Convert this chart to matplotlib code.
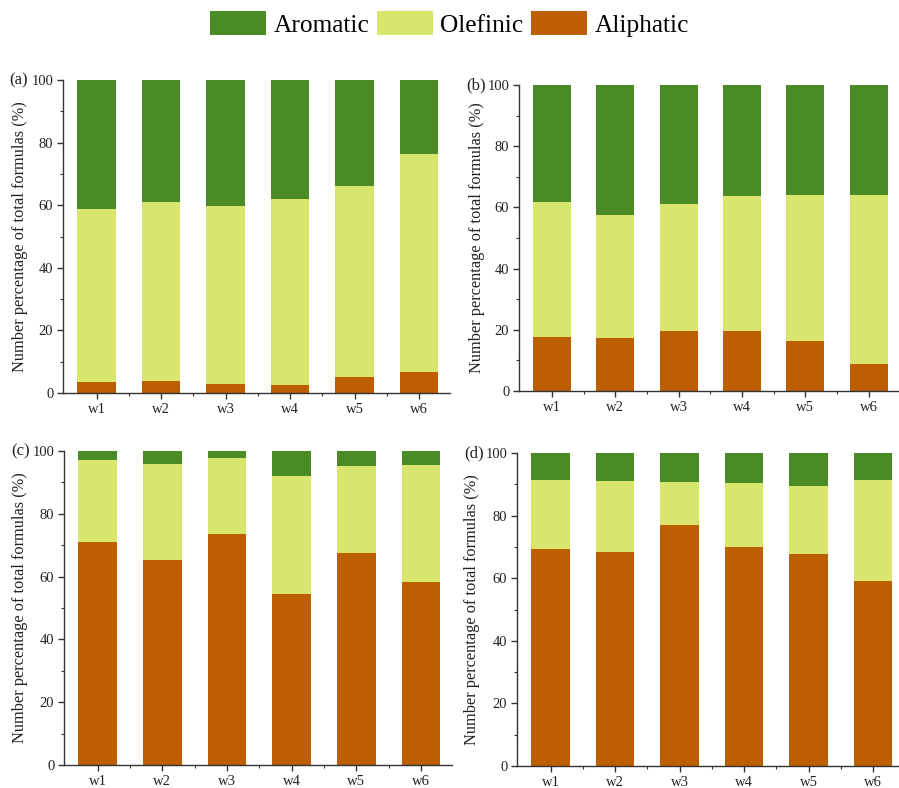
import matplotlib
matplotlib.use("Agg")
import matplotlib.pyplot as plt
from matplotlib.patches import Patch
from matplotlib.ticker import MultipleLocator, FixedLocator
import numpy as np

plt.rcParams['font.family'] = ['Liberation Serif', 'DejaVu Serif']

categories = ["w1", "w2", "w3", "w4", "w5", "w6"]
series = ["Aromatic", "Olefinic", "Aliphatic"]

# Percentages per panel (Aliphatic, Olefinic, Aromatic)
aliphatic_a = [3.5, 3.7, 3.0, 2.7, 5.1, 6.6]
olefinic_a = [55.2, 57.2, 56.6, 59.3, 61.0, 69.7]
aromatic_a = [41.3, 39.1, 40.4, 38.0, 33.9, 23.7]

aliphatic_b = [17.6, 17.3, 19.7, 19.5, 16.4, 8.7]
olefinic_b = [44.2, 40.1, 41.4, 44.3, 47.5, 55.2]
aromatic_b = [38.2, 42.6, 38.9, 36.2, 36.1, 36.1]

aliphatic_c = [70.9, 65.2, 73.5, 54.5, 67.6, 58.3]
olefinic_c = [26.2, 30.7, 24.2, 37.6, 27.5, 37.1]
aromatic_c = [2.9, 4.1, 2.3, 7.9, 4.9, 4.6]

aliphatic_d = [69.2, 68.4, 77.0, 70.0, 67.7, 59.1]
olefinic_d = [22.3, 22.8, 13.6, 20.4, 21.6, 32.2]
aromatic_d = [8.5, 8.8, 9.4, 9.6, 10.7, 8.7]

panel_labels = ["(a)", "(b)", "(c)", "(d)"]
ylabel = "Number percentage of total formulas (%)"

colors = {"Aromatic": "#4a8b26", "Olefinic": "#d9e66e", "Aliphatic": "#bd5e00"}

W, H = 899, 788
fig = plt.figure(figsize=(W / 100, H / 100), dpi=100)

def px_axes(left, top, right, bottom):
    return fig.add_axes([left / W, 1 - bottom / H, (right - left) / W, (bottom - top) / H])

panels = [
    (px_axes(63, 80, 450, 393), aliphatic_a, olefinic_a, aromatic_a, (20, 237), (19, 80)),
    (px_axes(519, 85, 899, 391), aliphatic_b, olefinic_b, aromatic_b, (477, 238), (476, 85)),
    (px_axes(64, 451, 452, 765), aliphatic_c, olefinic_c, aromatic_c, (20, 608), (21, 451)),
    (px_axes(517, 453, 904, 766), aliphatic_d, olefinic_d, aromatic_d, (472, 610), (474, 453)),
]

x = np.arange(len(categories))
width = 0.6
for (ax, ali, ole, aro, ylpos, plpos), plab in zip(panels, panel_labels):
    ali = np.array(ali)
    ole = np.array(ole)
    aro = np.array(aro)
    ax.bar(x, ali, width, color=colors["Aliphatic"], linewidth=0)
    ax.bar(x, ole, width, bottom=ali, color=colors["Olefinic"], linewidth=0)
    ax.bar(x, aro, width, bottom=ali + ole, color=colors["Aromatic"], linewidth=0)
    ax.set_xlim(-0.52, 5.48)
    ax.set_ylim(0, 100)
    ax.set_xticks(x)
    ax.set_xticklabels(categories)
    ax.xaxis.set_minor_locator(FixedLocator(x[:-1] + 0.5))
    ax.yaxis.set_major_locator(MultipleLocator(20))
    ax.yaxis.set_minor_locator(MultipleLocator(10))
    for s in ("top", "right"):
        ax.spines[s].set_visible(False)
    for s in ("left", "bottom"):
        ax.spines[s].set_linewidth(1.0)
        ax.spines[s].set_color("#333333")
    ax.tick_params(axis="both", which="major", direction="out", length=4,
                   width=1.0, labelsize=10.5, pad=3, colors="#333333",
                   labelcolor="#222222")
    ax.tick_params(axis="both", which="minor", direction="out", length=2.5,
                   width=0.8, colors="#333333")
    fig.text(ylpos[0] / W, 1 - ylpos[1] / H, ylabel, rotation=90,
             ha="center", va="center", fontsize=11.8, color="#222222")
    fig.text(plpos[0] / W, 1 - plpos[1] / H, plab, ha="center", va="center",
             fontsize=12, color="#222222")

handles = [Patch(facecolor=colors[s], edgecolor="none", label=s) for s in series]
fig.legend(handles=handles, loc="center", bbox_to_anchor=(0.5, 1 - 24 / H),
           ncol=3, frameon=False, fontsize=18.3, handlelength=2.2,
           handleheight=1.1, handletextpad=0.3, columnspacing=0.3,
           borderaxespad=0)

fig.savefig("out.png", dpi=100)
